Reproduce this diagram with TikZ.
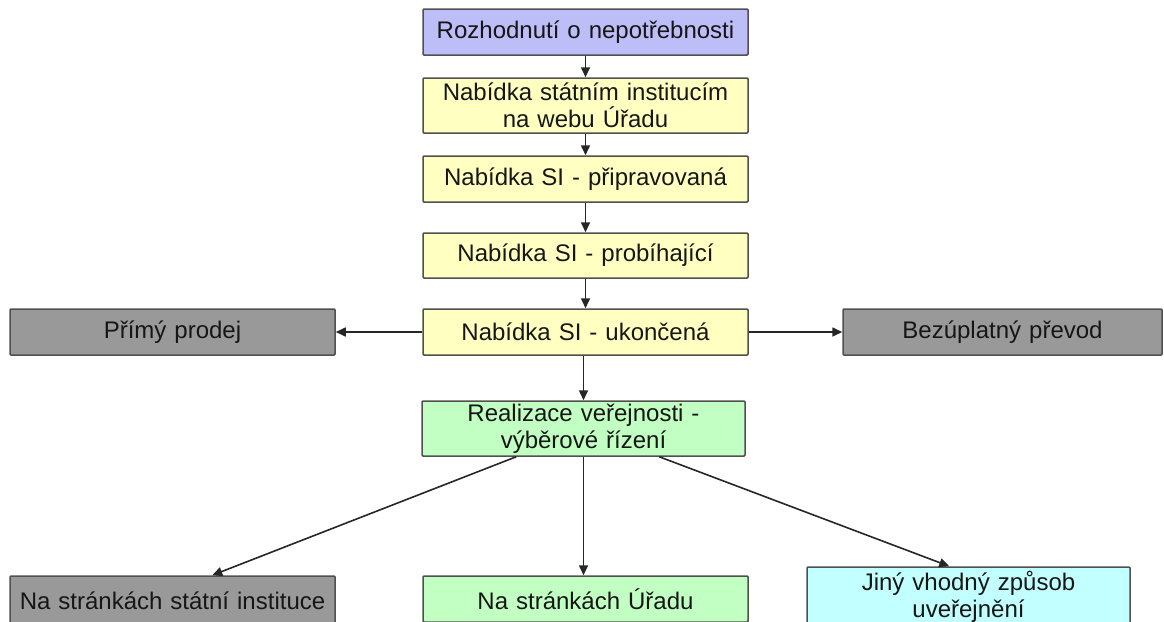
\documentclass[tikz,border=0pt]{standalone}
\usepackage{fontspec}
\setmainfont{Liberation Sans}
\usetikzlibrary{arrows.meta,calc}
\definecolor{cpurple}{HTML}{BDBDF7}
\definecolor{cyellow}{HTML}{FFFFC2}
\definecolor{cgreen}{HTML}{C2FFC2}
\definecolor{ccyan}{HTML}{C2FFFF}
\definecolor{cgray}{HTML}{999999}
\definecolor{cborder}{HTML}{505050}
\definecolor{ctext}{HTML}{161616}
\tikzset{
  box/.style={draw=cborder, line width=1.5pt, rounded corners=1pt, align=center,
    text=ctext, font=\fontsize{24}{27}\selectfont, inner sep=0pt,
    minimum width=#1, text width=#1},
  conn/.style={draw=black!85, line width=1.6pt, -{Triangle[length=10pt,width=9pt]}},
}
\begin{document}
\begin{tikzpicture}[x=1pt,y=-1pt]
\useasboundingbox (0,0) rectangle (1164,621);
\node[box=325pt, fill=cpurple, minimum height=46pt] (b1) at (585.5,32) {Rozhodnutí o nepotřebnosti};
\node[box=325pt, fill=cyellow, minimum height=55pt] (b2) at (585.5,105.5) {Nabídka státním institucím\\na webu Úřadu};
\node[box=325pt, fill=cyellow, minimum height=46pt] (b3) at (585.5,179) {Nabídka SI - připravovaná};
\node[box=325pt, fill=cyellow, minimum height=45pt] (b4) at (585.5,255.5) {Nabídka SI - probíhající};
\node[box=325pt, fill=cyellow, minimum height=46pt] (b5) at (585.5,332) {Nabídka SI - ukončená};
\node[box=325pt, fill=cgray, minimum height=46pt] (pp) at (172.5,332) {Přímý prodej};
\node[box=319pt, fill=cgray, minimum height=46pt] (bp) at (1002.5,332) {Bezúplatný převod};
\node[box=323pt, fill=cgreen, minimum height=55pt] (rv) at (583.5,428.5) {Realizace veřejnosti -\\výběrové řízení};
\node[box=325pt, fill=cgray, minimum height=50pt] (ns) at (172.5,601) {Na stránkách státní instituce};
\node[box=325pt, fill=cgreen, minimum height=46pt] (nu) at (585.5,599) {Na stránkách Úřadu};
\node[box=323pt, fill=ccyan, minimum height=60pt] (jv) at (968.5,597) {Jiný vhodný způsob\\uveřejnění};
\coordinate (rvl) at ($(rv.south west)+(95,0)$);
\coordinate (rvr) at ($(rv.south west)+(238,0)$);
\coordinate (nsT) at ($(ns.north west)+(203,0)$);
\coordinate (jvT) at ($(jv.north west)+(143,0)$);
\draw[conn] (b1) -- (b2);
\draw[conn] (b2) -- (b3);
\draw[conn] (b3) -- (b4);
\draw[conn] (b4) -- (b5);
\draw[conn] (b5) -- (pp);
\draw[conn] (b5) -- (bp);
\draw[conn] (b5.south -| rv.north) -- (rv.north);
\draw[conn] (rvl) -- (nsT);
\draw[conn] (rv.south) -- (rv.south |- nu.north);
\draw[conn] (rvr) -- (jvT);
\end{tikzpicture}
\end{document}
